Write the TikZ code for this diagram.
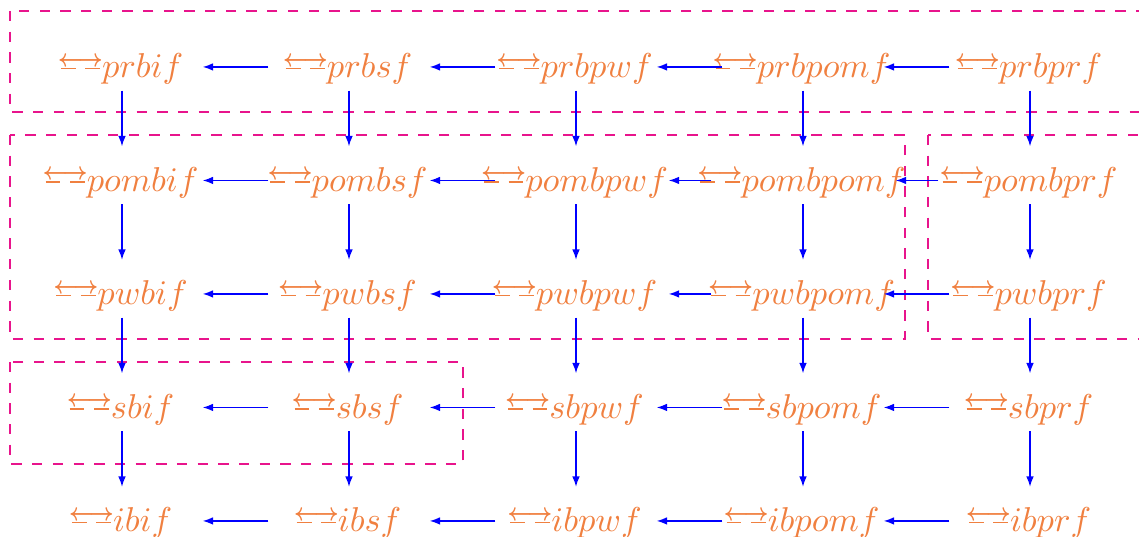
\documentclass[tikz,border=0pt]{standalone}
\usepackage{amsmath,amssymb}
\usepackage{graphicx}
\usepackage{tikz}
\usepackage{xcolor}
\usetikzlibrary{arrows.meta}

\definecolor{lblorange}{RGB}{240,128,64}
\definecolor{boxpink}{RGB}{232,20,140}

% long double arrow over a broken line
\newcommand{\brk}{\mathord{\makebox[0pt][l]{\makebox[11.4pt]{\raisebox{3.4pt}{\scalebox{0.78}[1]{$\scriptstyle\boldsymbol{\longleftrightarrow}$}}}}%
  \rule[2.6pt]{4.3pt}{0.35pt}\hspace{2.8pt}\rule[2.6pt]{4.3pt}{0.35pt}}}
\newcommand{\eqlab}[1]{\makebox[0pt]{$\brk\mkern1mu #1$}}

\begin{document}
\begin{tikzpicture}[x=0.29pt,y=-0.29pt,
    lbl/.style={text=lblorange, anchor=base, inner sep=0pt, minimum width=46.4pt,
      text height=9.9pt, text depth=3.5pt},
    arr/.style={blue, -{Latex[length=3pt,width=2.2pt]}},
    varr/.style={arr, shorten >=3pt},
    wide/.style={shorten <=3.2pt, shorten >=3.5pt},
    grp/.style={boxpink, dashed}]
    \useasboundingbox (0,0) rectangle (1139,537);
    \clip (0,0) rectangle (1139,537);

    % groups
    \draw[grp] (10,11) rectangle (1160,112);
    \draw[grp] (10,135) rectangle (905,339);
    \draw[grp] (928,135) rectangle (1160,339);
    \draw[grp] (10,362) rectangle (463,464);

    % row pr
    \node[lbl] (prbif) at (122,78) {\eqlab{prbif}};
    \node[lbl] (prbsf) at (349,78) {\eqlab{prbsf}};
    \node[lbl] (prbpwf) at (576,78) {\eqlab{prbpwf}};
    \node[lbl] (prbpomf) at (803,78) {\eqlab{prbpomf}};
    \node[lbl] (prbprf) at (1030,78) {\eqlab{prbprf}};
    % row pom
    \node[lbl] (pombif) at (122,191.5) {\eqlab{pombif}};
    \node[lbl] (pombsf) at (349,191.5) {\eqlab{pombsf}};
    \node[lbl] (pombpwf) at (576,191.5) {\eqlab{pombpwf}};
    \node[lbl] (pombpomf) at (803,191.5) {\eqlab{pombpomf}};
    \node[lbl] (pombprf) at (1030,191.5) {\eqlab{pombprf}};
    % row pw
    \node[lbl] (pwbif) at (122,305) {\eqlab{pwbif}};
    \node[lbl] (pwbsf) at (349,305) {\eqlab{pwbsf}};
    \node[lbl] (pwbpwf) at (576,305) {\eqlab{pwbpwf}};
    \node[lbl] (pwbpomf) at (803,305) {\eqlab{pwbpomf}};
    \node[lbl] (pwbprf) at (1030,305) {\eqlab{pwbprf}};
    % row s
    \node[lbl] (sbif) at (122,418.5) {\eqlab{sbif}};
    \node[lbl] (sbsf) at (349,418.5) {\eqlab{sbsf}};
    \node[lbl] (sbpwf) at (576,418.5) {\eqlab{sbpwf}};
    \node[lbl] (sbpomf) at (803,418.5) {\eqlab{sbpomf}};
    \node[lbl] (sbprf) at (1030,418.5) {\eqlab{sbprf}};
    % row i
    \node[lbl] (ibif) at (122,532) {\eqlab{ibif}};
    \node[lbl] (ibsf) at (349,532) {\eqlab{ibsf}};
    \node[lbl] (ibpwf) at (576,532) {\eqlab{ibpwf}};
    \node[lbl] (ibpomf) at (803,532) {\eqlab{ibpomf}};
    \node[lbl] (ibprf) at (1030,532) {\eqlab{ibprf}};

    % leftward arrows
    \draw[arr] (prbsf) -- (prbif);
    \draw[arr] (prbpwf) -- (prbsf);
    \draw[arr] (prbpomf) -- (prbpwf);
    \draw[arr] (prbprf) -- (prbpomf);
    \draw[arr] (pombsf) -- (pombif);
    \draw[arr] (pombpwf) -- (pombsf);
    \draw[arr,wide] (pombpomf) -- (pombpwf);
    \draw[arr,wide] (pombprf) -- (pombpomf);
    \draw[arr] (pwbsf) -- (pwbif);
    \draw[arr] (pwbpwf) -- (pwbsf);
    \draw[arr,wide] (pwbpomf) -- (pwbpwf);
    \draw[arr] (pwbprf) -- (pwbpomf);
    \draw[arr] (sbsf) -- (sbif);
    \draw[arr] (sbpwf) -- (sbsf);
    \draw[arr] (sbpomf) -- (sbpwf);
    \draw[arr] (sbprf) -- (sbpomf);
    \draw[arr] (ibsf) -- (ibif);
    \draw[arr] (ibpwf) -- (ibsf);
    \draw[arr] (ibpomf) -- (ibpwf);
    \draw[arr] (ibprf) -- (ibpomf);

    % downward arrows
    \draw[varr] (prbif) -- (pombif);
    \draw[varr] (prbsf) -- (pombsf);
    \draw[varr] (prbpwf) -- (pombpwf);
    \draw[varr] (prbpomf) -- (pombpomf);
    \draw[varr] (prbprf) -- (pombprf);
    \draw[varr] (pombif) -- (pwbif);
    \draw[varr] (pombsf) -- (pwbsf);
    \draw[varr] (pombpwf) -- (pwbpwf);
    \draw[varr] (pombpomf) -- (pwbpomf);
    \draw[varr] (pombprf) -- (pwbprf);
    \draw[varr] (pwbif) -- (sbif);
    \draw[varr] (pwbsf) -- (sbsf);
    \draw[varr] (pwbpwf) -- (sbpwf);
    \draw[varr] (pwbpomf) -- (sbpomf);
    \draw[varr] (pwbprf) -- (sbprf);
    \draw[varr] (sbif) -- (ibif);
    \draw[varr] (sbsf) -- (ibsf);
    \draw[varr] (sbpwf) -- (ibpwf);
    \draw[varr] (sbpomf) -- (ibpomf);
    \draw[varr] (sbprf) -- (ibprf);
\end{tikzpicture}
\end{document}
